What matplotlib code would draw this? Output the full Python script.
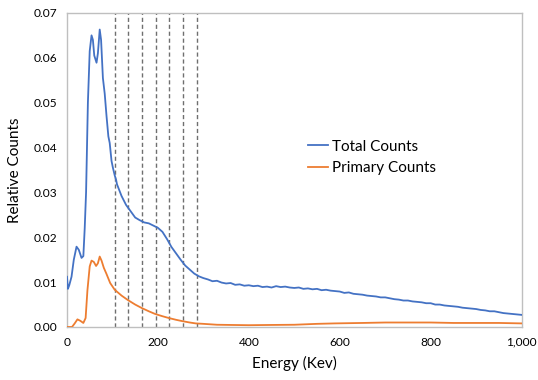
import matplotlib.pyplot as plt
from matplotlib.ticker import FuncFormatter

plt.rcParams['font.family'] = ['Lato', 'DejaVu Sans']

# energy grid (keV) and relative counts
energy_total = [0, 2, 5, 10, 15, 21, 26, 32, 36, 39, 42, 46, 50, 54, 57, 60, 65,
                68, 72, 75, 79, 83, 87, 91, 94, 98, 101, 105, 108,
                110, 120, 130, 140, 150, 160, 170, 180, 190, 200, 210, 220, 230,
                240, 250, 260, 270, 280, 290, 300, 310, 320, 330, 340, 350, 360,
                370, 380, 390, 400, 410, 420, 430, 440, 450, 460, 470, 480, 490,
                500, 510, 520, 530, 540, 550, 560, 570, 580, 590, 600, 610, 620,
                630, 640, 650, 660, 670, 680, 690, 700, 710, 720, 730, 740, 750,
                760, 770, 780, 790, 800, 810, 820, 830, 840, 850, 860, 870, 880,
                890, 900, 910, 920, 930, 940, 950, 960, 970, 980, 990, 1000]
total_counts = [0.0112, 0.0085, 0.0093, 0.0112, 0.0150, 0.0179, 0.0172, 0.0154, 0.0158,
                0.0220, 0.0300, 0.0500, 0.0615, 0.0650, 0.0640, 0.0605, 0.0589,
                0.0610, 0.0663, 0.0640, 0.0555, 0.0520, 0.0470, 0.0425, 0.0410, 0.0370,
                0.0355, 0.0338, 0.0328,
                0.0318, 0.0292, 0.0272, 0.0258, 0.0244, 0.0238, 0.0233, 0.0231,
                0.0226, 0.0221, 0.0212, 0.0196, 0.0178, 0.0164, 0.0150, 0.0137,
                0.0128, 0.0119, 0.0113, 0.0109, 0.0106, 0.0102, 0.0103, 0.0099,
                0.0097, 0.0098, 0.0094, 0.0095, 0.0092, 0.0093, 0.0091, 0.0092,
                0.0089, 0.0090, 0.0088, 0.0091, 0.0089, 0.0090, 0.0088, 0.0087,
                0.0088, 0.0085, 0.0086, 0.0084, 0.0085, 0.0082, 0.0083, 0.0081,
                0.0080, 0.0079, 0.0076, 0.0077, 0.0074, 0.0073, 0.0072, 0.0070,
                0.0069, 0.0068, 0.0066, 0.0066, 0.0064, 0.0062, 0.0061, 0.0059,
                0.0059, 0.0057, 0.0056, 0.0055, 0.0053, 0.0053, 0.0050, 0.0050,
                0.0048, 0.0047, 0.0046, 0.0045, 0.0043, 0.0042, 0.0041, 0.0040,
                0.0038, 0.0037, 0.0035, 0.0035, 0.0033, 0.0031, 0.0030, 0.0029,
                0.0028, 0.0027]

energy_primary = [0, 11, 17, 23, 29, 36, 41, 45, 50, 54, 59, 64, 68, 72, 76, 81, 87,
                  95, 105, 120, 134, 150, 165, 180, 194, 210, 224, 240, 254, 270,
                  283, 300, 330, 363, 400, 445, 500, 550, 589, 650, 700, 757, 800,
                  850, 900, 950, 1000]
primary_counts = [0.0, 0.0, 0.0008, 0.0017, 0.0014, 0.0009, 0.0020, 0.0082, 0.0135,
                  0.0148, 0.0145, 0.0136, 0.0142, 0.0157, 0.0148, 0.0132, 0.0118,
                  0.0098, 0.0083, 0.0070, 0.0060, 0.0050, 0.0042, 0.0035, 0.0029,
                  0.0024, 0.0020, 0.0016, 0.0013, 0.0010, 0.0008, 0.0007, 0.0005,
                  0.00045, 0.0004, 0.00045, 0.0005, 0.0007, 0.0008, 0.0009, 0.0010,
                  0.0010, 0.0010, 0.0009, 0.0009, 0.0009, 0.0008]

cut_energies = [105, 135, 165, 195, 225, 255, 285]

fig = plt.figure(figsize=(5.38, 3.80), dpi=100)
ax = fig.add_axes([0.1245, 0.1395, 0.845, 0.8265])

for e in cut_energies:
    ax.axvline(e, color='#6f6f6f', linestyle=(0, (3, 2)), linewidth=1.0, zorder=1)

ax.plot(energy_total, total_counts, color='#4472C4', linewidth=1.3, label='Total Counts', zorder=3)
ax.plot(energy_primary, primary_counts, color='#ED7D31', linewidth=1.3, label='Primary Counts', zorder=3)

ax.set_xlim(0, 1000)
ax.set_ylim(0, 0.07)
ax.set_xticks([0, 200, 400, 600, 800, 1000])
ax.set_yticks([0, 0.01, 0.02, 0.03, 0.04, 0.05, 0.06, 0.07])
ax.xaxis.set_major_formatter(FuncFormatter(lambda v, p: f'{v:,.0f}'))
ax.yaxis.set_major_formatter(FuncFormatter(lambda v, p: f'{v:.2f}'))
ax.tick_params(length=0, labelsize=8.6, colors='#000000', pad=7)

for s in ax.spines.values():
    s.set_color('#bfbfbf')
    s.set_linewidth(1.0)

ax.set_xlabel('Energy (Kev)', fontsize=11, labelpad=6)
ax.set_ylabel('Relative Counts', fontsize=11, labelpad=8)

ax.legend(loc='upper left', bbox_to_anchor=(0.5, 0.64), frameon=False, fontsize=11,
          handlelength=1.3, handletextpad=0.3, labelspacing=0.5)

fig.savefig('out.png', dpi=100)
